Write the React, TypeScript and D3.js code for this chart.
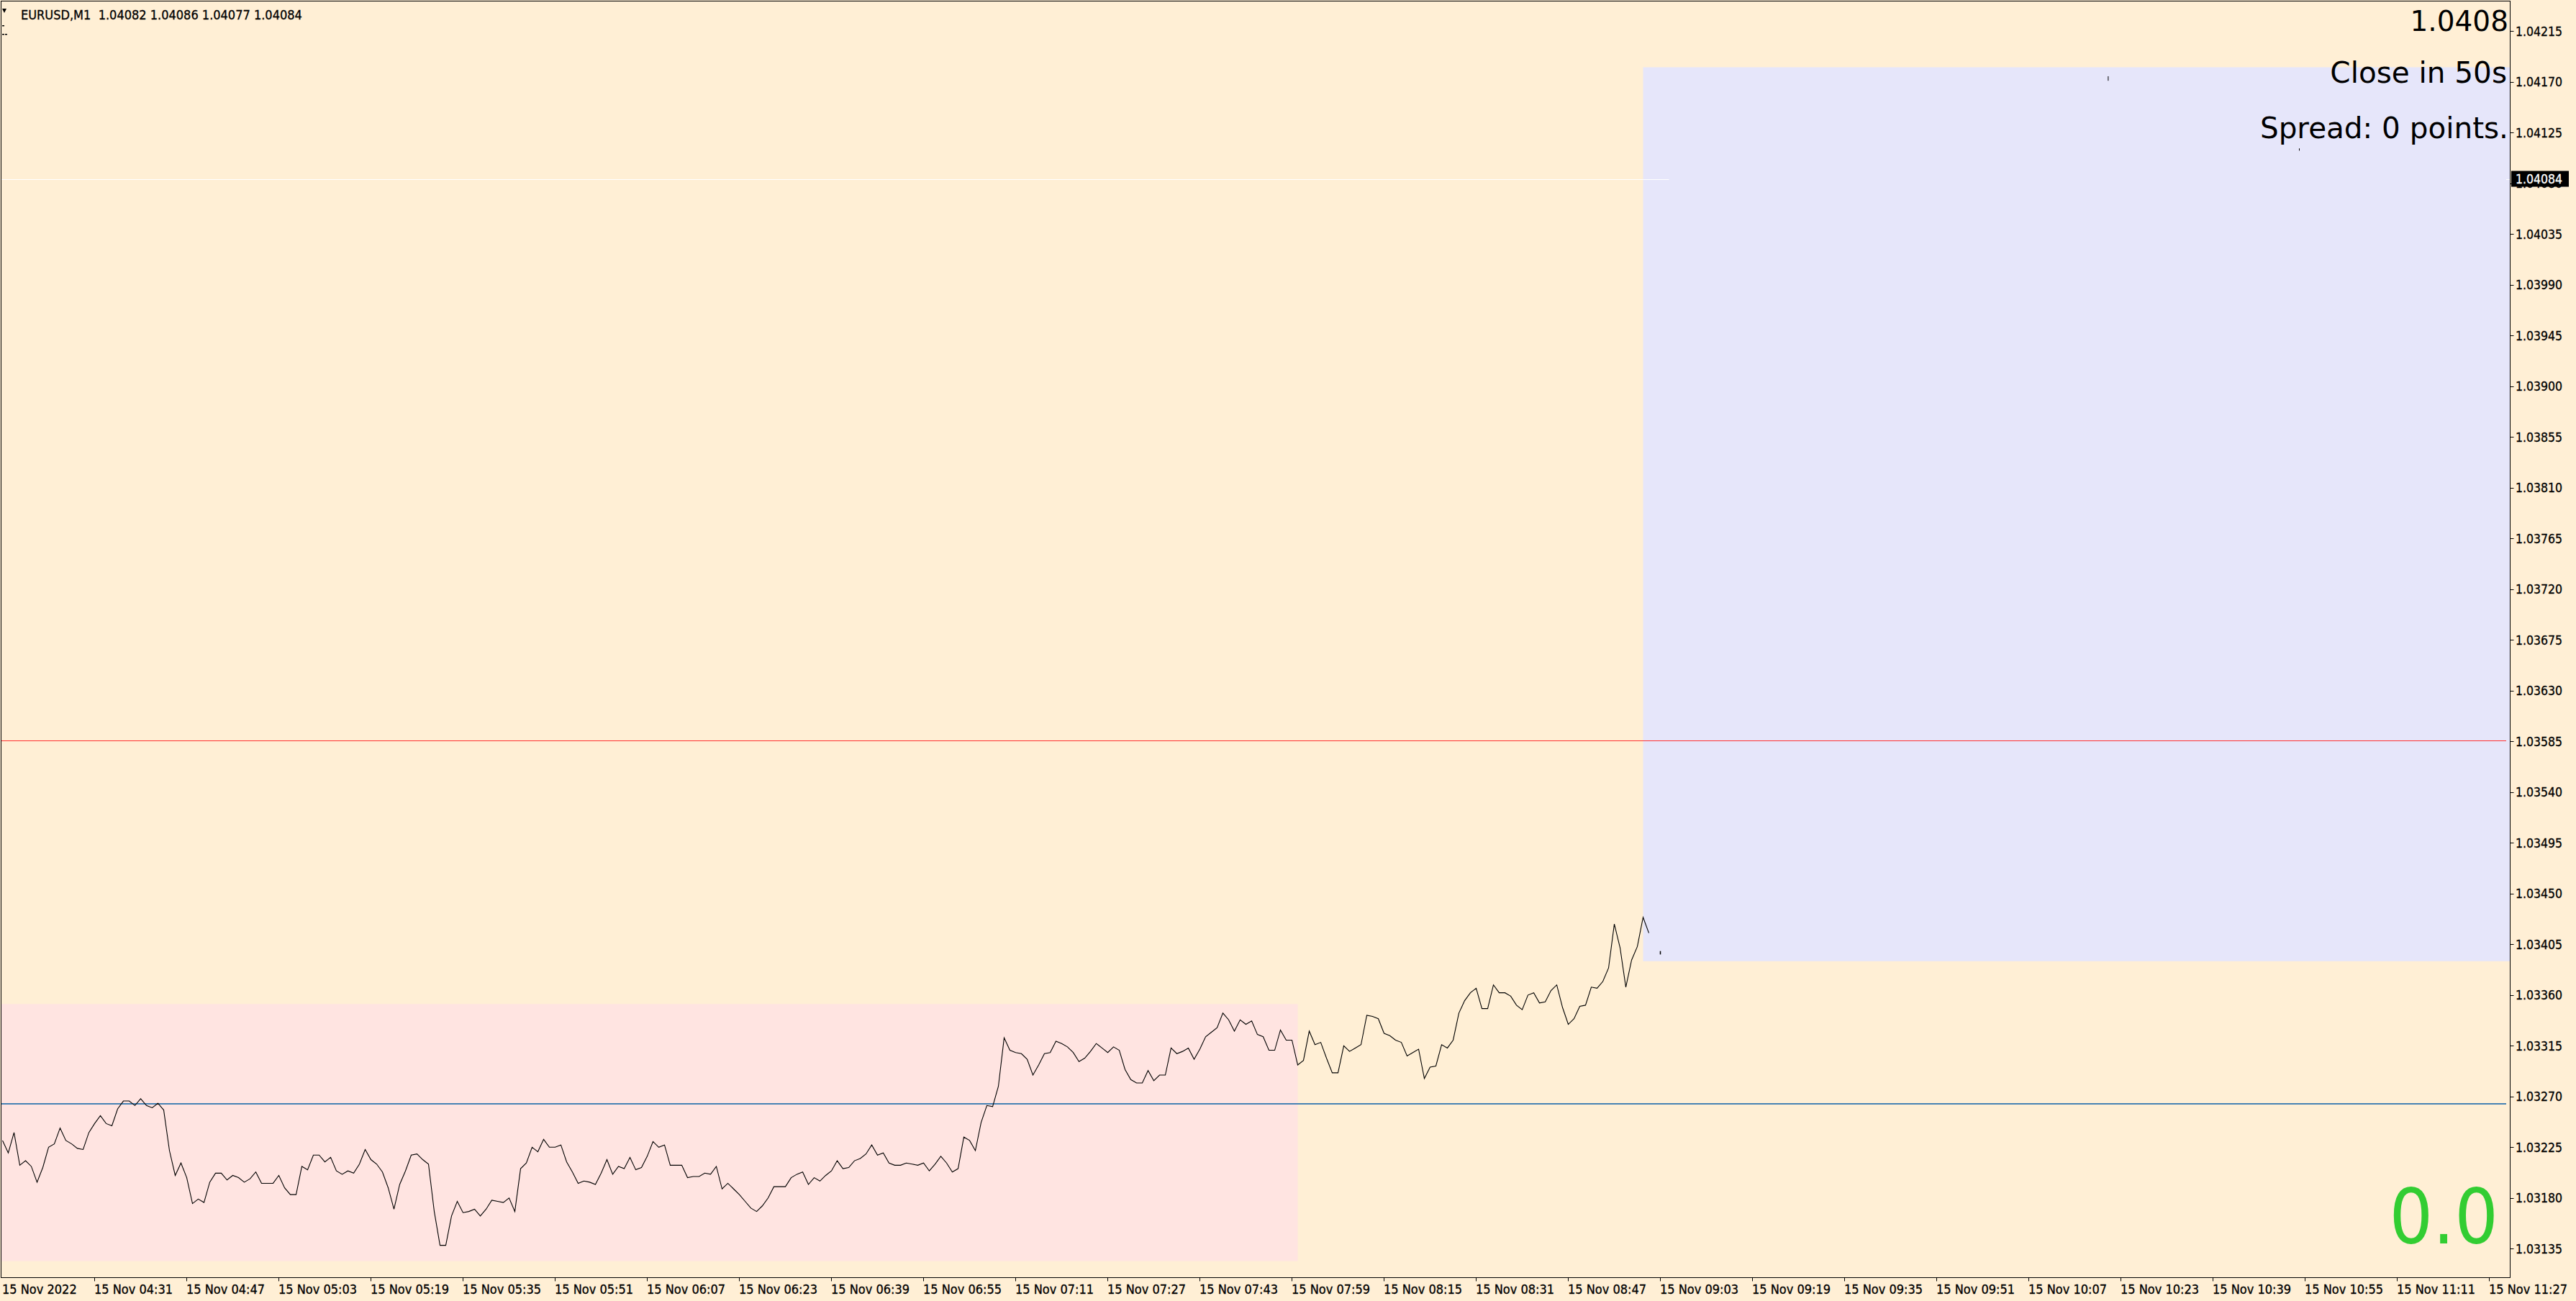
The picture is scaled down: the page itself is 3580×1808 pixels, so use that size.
import React from "react";
import * as d3 from "d3";

const W = 3580;
const H = 1808;

const headerText = "EURUSD,M1  1.04082 1.04086 1.04077 1.04084";

// close prices, one per minute starting 15 Nov 2022 04:15
const closes: number[] = [
  1.03231, 1.0322, 1.03238, 1.03209, 1.03213, 1.03208, 1.03194, 1.03207, 1.03225, 1.03228,
  1.03242, 1.03231, 1.03228, 1.03224, 1.03223, 1.03238, 1.03246, 1.03253, 1.03246, 1.03244,
  1.03259, 1.03266, 1.03266, 1.03262, 1.03268, 1.03262, 1.0326, 1.03264, 1.03258, 1.03222,
  1.032, 1.03211, 1.03198, 1.03175, 1.03179, 1.03176, 1.03194, 1.03202, 1.03202, 1.03196,
  1.032, 1.03198, 1.03194, 1.03197, 1.03203, 1.03193, 1.03193, 1.03193, 1.032, 1.03189,
  1.03183, 1.03183, 1.03208, 1.03205, 1.03218, 1.03218, 1.03212, 1.03216, 1.03204, 1.03201,
  1.03204, 1.03202, 1.0321, 1.03223, 1.03214, 1.0321, 1.03203, 1.03189, 1.0317, 1.03192,
  1.03204, 1.03218, 1.03219, 1.03214, 1.0321, 1.03168, 1.03138, 1.03138, 1.03164, 1.03177,
  1.03167, 1.03168, 1.0317, 1.03164, 1.0317, 1.03178, 1.03177, 1.03176, 1.0318, 1.03168,
  1.03206, 1.03211, 1.03225, 1.03221, 1.03232, 1.03225, 1.03225, 1.03227, 1.03212, 1.03203,
  1.03193, 1.03195, 1.03194, 1.03192, 1.03202, 1.03214, 1.03201, 1.03208, 1.03206, 1.03216,
  1.03205, 1.03207, 1.03217, 1.0323, 1.03225, 1.03227, 1.03209, 1.03209, 1.03209, 1.03198,
  1.03199, 1.03199, 1.03202, 1.03201, 1.03208, 1.03188, 1.03193, 1.03188, 1.03183, 1.03177,
  1.03171, 1.03168, 1.03173, 1.0318, 1.0319, 1.0319, 1.0319, 1.03198, 1.03201, 1.03203,
  1.03192, 1.03198, 1.03195, 1.032, 1.03204, 1.03213, 1.03206, 1.03207, 1.03213, 1.03215,
  1.03219, 1.03227, 1.03218, 1.0322, 1.03211, 1.03209, 1.03209, 1.03211, 1.0321, 1.03209,
  1.03211, 1.03204, 1.0321, 1.03217, 1.03211, 1.03203, 1.03206, 1.03234, 1.03231, 1.03222,
  1.03247, 1.03262, 1.03261, 1.03279, 1.03322, 1.03311, 1.03309, 1.03308, 1.03303, 1.03289,
  1.03298, 1.03308, 1.03309, 1.03319, 1.03317, 1.03314, 1.03309, 1.03301, 1.03304, 1.0331,
  1.03317, 1.03313, 1.03309, 1.03314, 1.03311, 1.03294, 1.03285, 1.03282, 1.03282, 1.03293,
  1.03284, 1.03289, 1.03289, 1.03313, 1.03308, 1.0331, 1.03313, 1.03303, 1.03312, 1.03323,
  1.03327, 1.03331, 1.03344, 1.03338, 1.03328, 1.03338, 1.03334, 1.03337, 1.03325, 1.03323,
  1.03311, 1.03311, 1.03329, 1.0332, 1.0332, 1.03298, 1.03302, 1.03328, 1.03316, 1.03318,
  1.03304, 1.03291, 1.03291, 1.03315, 1.0331, 1.03313, 1.03316, 1.03342, 1.03341, 1.03339,
  1.03326, 1.03324, 1.0332, 1.03318, 1.03306, 1.03309, 1.03312, 1.03286, 1.03296, 1.03297,
  1.03316, 1.03313, 1.0332, 1.03344, 1.03355, 1.03362, 1.03366, 1.03348, 1.03348, 1.03369,
  1.03362, 1.03362, 1.03359, 1.03351, 1.03347, 1.0336, 1.03362, 1.03353, 1.03354, 1.03364,
  1.03369, 1.03349, 1.03334, 1.03339, 1.0335, 1.03351, 1.03367, 1.03366, 1.03372, 1.03384,
  1.03423, 1.03402, 1.03367, 1.03391, 1.03403, 1.03429, 1.03415,
];

// current (forming) bar: index and high/low
const currentBar = { index: 288, high: 1.03399, low: 1.03396 };

const timeLabels: string[] = [
  "15 Nov 2022", "15 Nov 04:31", "15 Nov 04:47", "15 Nov 05:03", "15 Nov 05:19",
  "15 Nov 05:35", "15 Nov 05:51", "15 Nov 06:07", "15 Nov 06:23", "15 Nov 06:39",
  "15 Nov 06:55", "15 Nov 07:11", "15 Nov 07:27", "15 Nov 07:43", "15 Nov 07:59",
  "15 Nov 08:15", "15 Nov 08:31", "15 Nov 08:47", "15 Nov 09:03", "15 Nov 09:19",
  "15 Nov 09:35", "15 Nov 09:51", "15 Nov 10:07", "15 Nov 10:23", "15 Nov 10:39",
  "15 Nov 10:55", "15 Nov 11:11", "15 Nov 11:27",
];
const barsPerLabel = 16;

const priceTicks: number[] = [
  1.04215, 1.0417, 1.04125, 1.0408, 1.04035, 1.0399, 1.03945, 1.039, 1.03855,
  1.0381, 1.03765, 1.0372, 1.03675, 1.0363, 1.03585, 1.0354, 1.03495, 1.0345,
  1.03405, 1.0336, 1.03315, 1.0327, 1.03225, 1.0318, 1.03135,
];

const bidPrice = 1.04084;
const bidLineEndIndex = 289.5;
const redLevel = 1.03586;
const blueLevel = 1.032633;

// session boxes
const pinkBox = { from: -5, to: 225, high: 1.03352, low: 1.03124 };
const lavenderBox = { from: 285, to: 450, high: 1.04183, low: 1.0339 };

// small stray object marks: [index, high, low]
const strayMarks: [number, number, number][] = [
  [365.8, 1.04175, 1.04171],
  [399, 1.04111, 1.04109],
];

const bigPriceText = "1.0408";
const closeText = "Close in 50s";
const spreadText = "Spread: 0 points.";
const profitText = "0.0";

const PLOT = { left: 1.5, top: 1.5, right: 3488.5, bottom: 1775.5 };

const axisFont = "'DejaVu Sans Condensed', 'DejaVu Sans', sans-serif";
const bigFont = "'DejaVu Sans', Verdana, sans-serif";

export default function App() {
  const x = d3.scaleLinear().domain([0, 435]).range([3.5, 3483.5]);
  const y = d3.scaleLinear().domain([1.03135, 1.04215]).range([1735.3, 43.3]);

  const line = d3
    .line<number>()
    .x((_, i) => x(i))
    .y((d) => y(d));

  const plotW = PLOT.right - PLOT.left;
  const plotH = PLOT.bottom - PLOT.top;
  const txt = { fontFamily: axisFont, fill: "#000", stroke: "#000", strokeWidth: 0.3 };

  return (
    <svg
      width={W}
      height={H}
      viewBox={`0 0 ${W} ${H}`}
      style={{ position: "absolute", left: 0, top: 0, display: "block" }}
    >
      <defs>
        <clipPath id="plotClip">
          <rect x={PLOT.left} y={PLOT.top} width={plotW} height={plotH} />
        </clipPath>
      </defs>
      <rect x={0} y={0} width={W} height={H} fill="#FFEFD5" />

      <g clipPath="url(#plotClip)">
        <rect
          x={x(pinkBox.from)}
          y={y(pinkBox.high)}
          width={x(pinkBox.to) - x(pinkBox.from)}
          height={y(pinkBox.low) - y(pinkBox.high)}
          fill="#FFE4E1"
        />
        <rect
          x={x(lavenderBox.from)}
          y={y(lavenderBox.high)}
          width={x(lavenderBox.to) - x(lavenderBox.from)}
          height={y(lavenderBox.low) - y(lavenderBox.high)}
          fill="#E6E6FA"
        />
        <line
          x1={PLOT.left}
          x2={3483}
          y1={Math.round(y(redLevel)) + 0.5}
          y2={Math.round(y(redLevel)) + 0.5}
          stroke="#FF3030"
          strokeWidth={1}
        />
        <line
          x1={PLOT.left}
          x2={3483}
          y1={Math.round(y(blueLevel))}
          y2={Math.round(y(blueLevel))}
          stroke="#4682B4"
          strokeWidth={2}
        />
        <line
          x1={PLOT.left}
          x2={x(bidLineEndIndex)}
          y1={Math.round(y(bidPrice)) + 0.5}
          y2={Math.round(y(bidPrice)) + 0.5}
          stroke="#FFFFFF"
          strokeWidth={1}
        />
        <line
          x1={3483}
          x2={3488}
          y1={Math.round(y(bidPrice)) + 0.5}
          y2={Math.round(y(bidPrice)) + 0.5}
          stroke="#FFFFFF"
          strokeWidth={1}
        />
        <path d={line(closes) || ""} fill="none" stroke="#000" strokeWidth={1.1} />
        <line
          x1={x(currentBar.index)}
          x2={x(currentBar.index)}
          y1={y(currentBar.high)}
          y2={y(currentBar.low)}
          stroke="#000"
          strokeWidth={1.5}
        />
        {strayMarks.map(([i, hi, lo], k) => (
          <line key={k} x1={x(i)} x2={x(i)} y1={y(hi)} y2={y(lo)} stroke="#000" strokeWidth={1} />
        ))}
      </g>

      <rect
        x={PLOT.left}
        y={PLOT.top}
        width={plotW}
        height={plotH}
        fill="none"
        stroke="#000"
        strokeWidth={1}
      />

      {/* header */}
      <path d="M3,12 L9,12 L6,18 Z" fill="#000" />
      <text x={29} y={27} fontSize={18} {...txt} style={{ whiteSpace: "pre" }}>
        {headerText}
      </text>
      <rect x={3} y={35} width={3} height={1.5} fill="#000" />
      <rect x={3} y={47} width={3} height={1.5} fill="#000" />
      <rect x={7} y={47} width={3} height={1.5} fill="#000" />

      {/* y axis */}
      {priceTicks.map((p) => (
        <g key={p}>
          <line
            x1={PLOT.right}
            x2={PLOT.right + 5}
            y1={Math.round(y(p)) + 0.5}
            y2={Math.round(y(p)) + 0.5}
            stroke="#000"
          />
          <text x={3496} y={y(p) + 6.5} fontSize={17.5} {...txt}>
            {p.toFixed(5)}
          </text>
        </g>
      ))}
      <rect x={3490} y={y(bidPrice) - 11} width={80} height={22} fill="#000" />
      <text x={3496} y={y(bidPrice) + 6.5} fontSize={17.5} {...txt} fill="#FFF" stroke="#FFF">
        {bidPrice.toFixed(5)}
      </text>

      {/* x axis */}
      {timeLabels.map((t, k) => {
        const xi = x(k * barsPerLabel);
        return (
          <g key={t}>
            {k > 0 && (
              <line
                x1={Math.round(xi) - 0.5}
                x2={Math.round(xi) - 0.5}
                y1={PLOT.bottom}
                y2={PLOT.bottom + 5}
                stroke="#000"
              />
            )}
            <text x={xi - 0.5} y={1798} fontSize={18} {...txt}>
              {t}
            </text>
          </g>
        );
      })}

      {/* info texts */}
      <text x={3486} y={43} textAnchor="end" fontFamily={bigFont} fontSize={39} fill="#000">
        {bigPriceText}
      </text>
      <text x={3484} y={115} textAnchor="end" fontFamily={bigFont} fontSize={40.5} fill="#000">
        {closeText}
      </text>
      <text x={3486} y={192} textAnchor="end" fontFamily={bigFont} fontSize={40.5} fill="#000">
        {spreadText}
      </text>
      <text x={3472} y={1728} textAnchor="end" fontFamily={axisFont} fontSize={106} fill="#32CD32">
        {profitText}
      </text>
    </svg>
  );
}
